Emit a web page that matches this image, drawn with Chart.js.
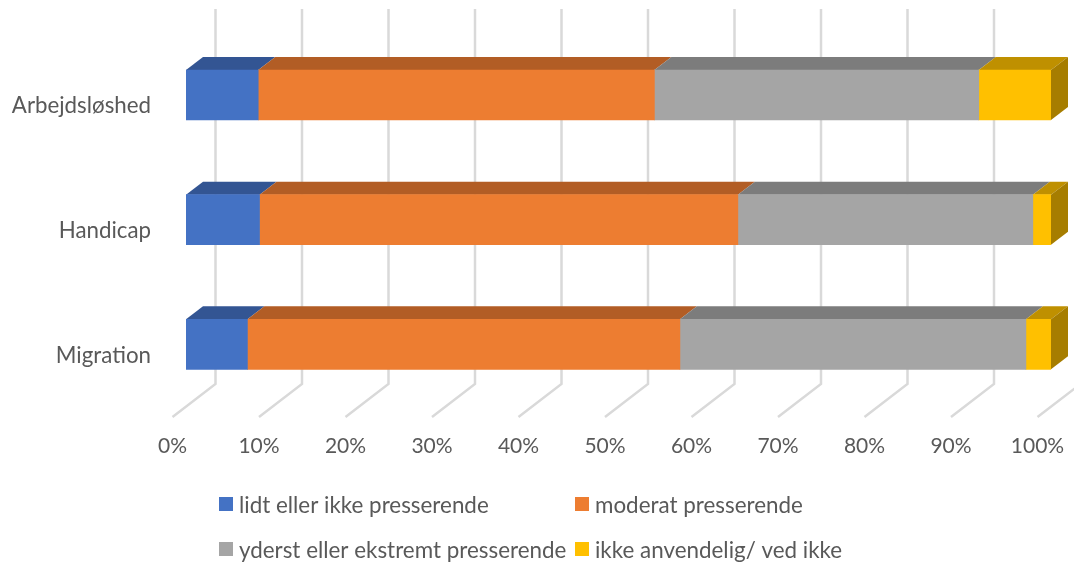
<!DOCTYPE html>
<html lang="da">
<head>
    <meta charset="UTF-8" />
    <title>Presserende</title>
    <script src="https://cdn.jsdelivr.net/npm/chart.js"></script>
    <style>
        html, body { margin: 0; padding: 0; background: #fff; }
        canvas { display: block; }
    </style>
</head>
<body>
    <canvas id="chart" width="1074" height="564"></canvas>

    <script>
        const categories = ['Arbejdsløshed', 'Handicap', 'Migration'];
        const seriesNames = ['lidt eller ikke presserende', 'moderat presserende', 'yderst eller ekstremt presserende', 'ikke anvendelig/ ved ikke'];
        const lidt = [8.35, 8.5, 7.1];
        const moderat = [45.8, 55.3, 50];
        const yderst = [37.5, 34.1, 40];
        const ikkeAnvendelig = [8.35, 2.1, 2.9];
        const xTicks = [0, 10, 20, 30, 40, 50, 60, 70, 80, 90, 100];

        const frontColors = ['#4472C4', '#ED7D31', '#A5A5A5', '#FFC000'];
        const topColors = ['#335593', '#B25D25', '#7C7C7C', '#BF9000'];
        const sideColor = '#A67D00';
        const textColor = '#595959';
        const fontFamily = 'Lato, sans-serif';
        const legendSize = 22.4;

        // fake 3d: bar depth, and where the grid sits relative to the bars
        const depthX = 17, depthY = 13;
        const gridBackX = 29.5, gridFrontX = -13.5;
        const gridTop = 9, gridKnee = 384, gridBottom = 417;

        function poly(ctx, pts, color) {
            ctx.fillStyle = color;
            ctx.beginPath();
            pts.forEach((p, i) => i ? ctx.lineTo(p[0], p[1]) : ctx.moveTo(p[0], p[1]));
            ctx.closePath();
            ctx.fill();
        }

        const wallPlugin = {
            id: 'wall',
            beforeDatasetsDraw(chart) {
                const ctx = chart.ctx, xs = chart.scales.x;
                ctx.save();
                ctx.strokeStyle = '#D9D9D9';
                ctx.lineWidth = 2.5;
                xTicks.forEach(v => {
                    const px = xs.getPixelForValue(v);
                    ctx.beginPath();
                    ctx.moveTo(px + gridBackX, gridTop);
                    ctx.lineTo(px + gridBackX, gridKnee);
                    ctx.lineTo(px + gridFrontX, gridBottom);
                    ctx.stroke();
                });
                // top faces and end caps
                chart.data.datasets.forEach((ds, i) => {
                    chart.getDatasetMeta(i).data.forEach(bar => {
                        const top = bar.y - bar.height / 2, bot = bar.y + bar.height / 2;
                        poly(ctx, [[bar.base, top], [bar.x, top], [bar.x + depthX, top - depthY], [bar.base + depthX, top - depthY]], topColors[i]);
                        if (i === chart.data.datasets.length - 1) {
                            poly(ctx, [[bar.x, top], [bar.x + depthX, top - depthY], [bar.x + depthX, bot - depthY], [bar.x, bot]], sideColor);
                        }
                    });
                });
                ctx.restore();
            }
        };

        // two fixed columns, the built-in legend can't line these up
        const legendPos = [[219, 497], [575, 497], [219, 542], [575, 542]];
        const legendPlugin = {
            id: 'fixedLegend',
            afterDraw(chart) {
                const ctx = chart.ctx;
                ctx.save();
                ctx.font = legendSize + 'px ' + fontFamily;
                ctx.textBaseline = 'middle';
                seriesNames.forEach((name, i) => {
                    const p = legendPos[i];
                    ctx.fillStyle = frontColors[i];
                    ctx.fillRect(p[0], p[1], 14, 14);
                    ctx.fillStyle = textColor;
                    ctx.fillText(name, p[0] + 20, p[1] + 9);
                });
                ctx.restore();
            }
        };

        new Chart(document.getElementById('chart').getContext('2d'), {
            type: 'bar',
            data: {
                labels: categories,
                datasets: [lidt, moderat, yderst, ikkeAnvendelig].map((values, i) => ({
                    label: seriesNames[i],
                    data: values,
                    backgroundColor: frontColors[i],
                    borderWidth: 0,
                    barThickness: 50
                }))
            },
            options: {
                indexAxis: 'y',
                responsive: false,
                animation: false,
                devicePixelRatio: 1,
                layout: { padding: { top: 32.7, right: 23, left: 0, bottom: 0 } },
                plugins: { legend: { display: false }, tooltip: { enabled: false } },
                scales: {
                    x: {
                        stacked: true,
                        min: 0,
                        max: 100,
                        border: { display: false },
                        grid: { display: false, drawTicks: false },
                        afterBuildTicks(scale) { scale.ticks = xTicks.map(v => ({ value: v })); },
                        afterFit(scale) { scale.height = 157.3; scale.paddingLeft = 0; scale.paddingRight = 0; },
                        ticks: {
                            autoSkip: false,
                            maxRotation: 0,
                            labelOffset: gridFrontX,
                            padding: 27,
                            color: textColor,
                            font: { family: fontFamily, size: 21 },
                            callback: v => v + '%'
                        }
                    },
                    y: {
                        stacked: true,
                        border: { display: false },
                        grid: { display: false, drawTicks: false },
                        afterFit(scale) { scale.width = 186; scale.paddingTop = 0; scale.paddingBottom = 0; },
                        ticks: {
                            padding: 35,
                            labelOffset: 11,
                            color: textColor,
                            font: { family: fontFamily, size: 22.3 }
                        }
                    }
                }
            },
            plugins: [wallPlugin, legendPlugin]
        });
    </script>
</body>
</html>
